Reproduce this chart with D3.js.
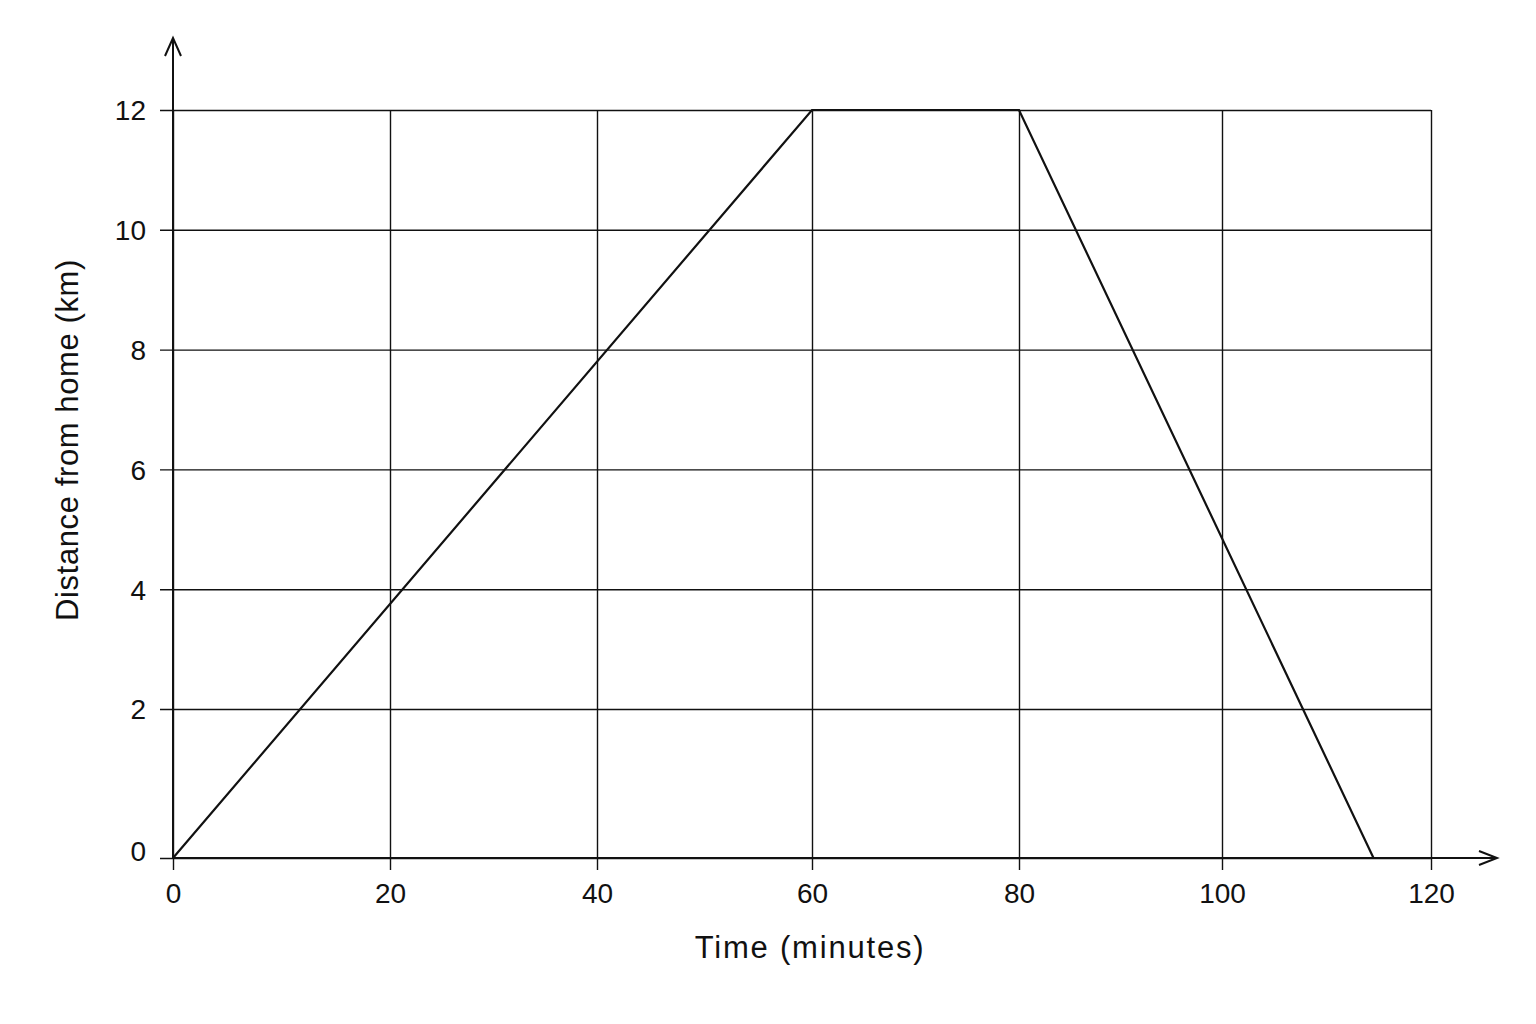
<!DOCTYPE html>
<html>
<head>
<meta charset="utf-8">
<script src="https://cdn.jsdelivr.net/npm/d3@7"></script>
<style>
  html, body { margin: 0; padding: 0; background: #ffffff; }
  svg { display: block; font-family: "Liberation Sans", Arial, sans-serif; }
</style>
</head>
<body>
<svg id="chart" width="1536" height="1024"></svg>
<script>
// ---- data ----
const timeMinutes = [0, 60, 80, 114.5];
const distanceKm = [0, 12, 12, 0];
const xTickValues = [0, 20, 40, 60, 80, 100, 120];
const yTickValues = [0, 2, 4, 6, 8, 10, 12];
const xTitle = "Time (minutes)";
const yTitle = "Distance from home (km)";

// ---- layout ----
const svg = d3.select("#chart");
const plotLeft = 173, plotRight = 1431, plotTop = 110, plotBottom = 858;

// hand-drawn grid spacing is slightly uneven; use polylinear scales
const x = d3.scaleLinear()
  .domain(xTickValues)
  .range([173, 390, 597, 812, 1019, 1222, 1431]);
const y = d3.scaleLinear()
  .domain([0, 2, 12])
  .range([858, 709, 110]);

const ink = "#111";

// horizontal gridlines + y tick labels
const yAxis = d3.axisLeft(y)
  .tickValues(yTickValues)
  .tickSize(-(plotRight - plotLeft))
  .tickFormat(d3.format("d"));
const gy = svg.append("g").attr("transform", `translate(${plotLeft},0)`).call(yAxis);
gy.select(".domain").remove();
gy.selectAll(".tick line").attr("x1", -13).attr("stroke", ink).attr("stroke-width", 1.4);
gy.selectAll(".tick text")
  .attr("x", -27)
  .attr("dy", "0.35em")
  .attr("font-size", 28)
  .attr("fill", ink)
  .attr("font-family", "Liberation Sans, Arial, sans-serif")
  .attr("transform", d => d === 0 ? "translate(0,-7)" : null);

// vertical gridlines + x tick labels
const xAxis = d3.axisBottom(x)
  .tickValues(xTickValues)
  .tickSize(-(plotBottom - plotTop))
  .tickFormat(d3.format("d"));
const gx = svg.append("g").attr("transform", `translate(0,${plotBottom})`).call(xAxis);
gx.select(".domain").remove();
gx.selectAll(".tick line").attr("y1", 12).attr("stroke", ink).attr("stroke-width", 1.4);
gx.selectAll(".tick text")
  .attr("y", 45)
  .attr("dy", 0)
  .attr("font-size", 28)
  .attr("fill", ink)
  .attr("font-family", "Liberation Sans, Arial, sans-serif");

// axes with arrows
svg.append("line").attr("x1", plotLeft).attr("y1", plotBottom).attr("x2", plotLeft).attr("y2", 38)
  .attr("stroke", ink).attr("stroke-width", 2);
svg.append("path").attr("d", `M${plotLeft - 8},56 L${plotLeft},38 L${plotLeft + 8},56`)
  .attr("fill", "none").attr("stroke", ink).attr("stroke-width", 2);
svg.append("line").attr("x1", plotLeft).attr("y1", plotBottom).attr("x2", 1497).attr("y2", plotBottom)
  .attr("stroke", ink).attr("stroke-width", 2);
svg.append("path").attr("d", `M1479,${plotBottom - 7} L1497,${plotBottom} L1479,${plotBottom + 7}`)
  .attr("fill", "none").attr("stroke", ink).attr("stroke-width", 2);

// journey line
const pts = timeMinutes.map((t, i) => [t, distanceKm[i]]);
svg.append("path")
  .datum(pts)
  .attr("d", d3.line().x(d => x(d[0])).y(d => y(d[1])))
  .attr("fill", "none")
  .attr("stroke", ink)
  .attr("stroke-width", 2.2);

// titles
svg.append("text")
  .attr("x", 810).attr("y", 958)
  .attr("text-anchor", "middle")
  .attr("font-size", 31)
  .attr("letter-spacing", 1.8)
  .attr("fill", ink)
  .text(xTitle);
svg.append("text")
  .attr("transform", "translate(78,440) rotate(-90)")
  .attr("text-anchor", "middle")
  .attr("font-size", 31)
  .attr("letter-spacing", 0.6)
  .attr("fill", ink)
  .text(yTitle);
</script>
</body>
</html>
